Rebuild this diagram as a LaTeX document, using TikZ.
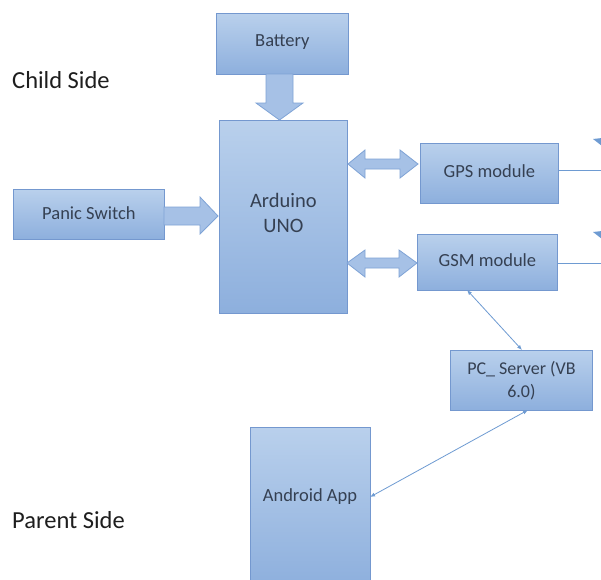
\documentclass[tikz,border=0pt]{standalone}
\usepackage{fontspec}
\setmainfont{Carlito}
\usetikzlibrary{arrows.meta}
\newcommand{\up}[2]{\raisebox{#1}{#2}}
\begin{document}
\begin{tikzpicture}[x=1pt,y=-1pt,
  blk/.style={draw=bordc, line width=0.8pt, top color=boxtop, bottom color=boxbot, text=txtc,
    font=\fontsize{18.5}{21}\selectfont, inner sep=0pt, align=center, anchor=north west},
  barrow/.style={draw=arrb, line width=0.8pt, fill=arrf},
  thin/.style={draw=linec, line width=0.8pt},
  side/.style={text=sidec, font=\fontsize{24.5}{28}\selectfont, anchor=west, inner sep=0pt}]
\definecolor{bordc}{HTML}{7498CF}
\definecolor{boxtop}{HTML}{B9D0EC}
\definecolor{boxbot}{HTML}{8DAFDD}
\definecolor{txtc}{HTML}{354052}
\definecolor{arrb}{HTML}{7FA3D6}
\definecolor{arrf}{HTML}{A6C1E6}
\definecolor{linec}{HTML}{6E9BD2}
\definecolor{sidec}{HTML}{1E1E1E}
\useasboundingbox (0,0) rectangle (601,579);
\fill[white] (0,0) rectangle (601,579);

% boxes
\node[blk, minimum width=132pt, minimum height=61pt] (bat) at (216,13) {\up{6pt}{Battery}};
\node[blk, minimum width=128pt, minimum height=193pt, font=\fontsize{20.5}{25}\selectfont] (ard) at (219,120) {\up{9pt}{Arduino}\\\up{9pt}{UNO}};
\node[blk, minimum width=151pt, minimum height=50pt] (pan) at (13,189) {\up{2pt}{Panic Switch}};
\node[blk, minimum width=138pt, minimum height=60pt] (gps) at (420,143) {\up{4pt}{GPS module}};
\node[blk, minimum width=140pt, minimum height=56pt] (gsm) at (417,234) {\up{5pt}{GSM module}};
\node[blk, minimum width=142pt, minimum height=60pt, font=\fontsize{18}{23}\selectfont] (pc) at (450,350) {\up{2pt}{PC\_ Server (VB}\\\up{2pt}{6.0)}};
\node[blk, minimum width=120pt, minimum height=160pt] (and) at (250,427) {};
\node[text=txtc, font=\fontsize{18.5}{21}\selectfont, inner sep=0pt] (andlbl) at (310,497) {Android App};

% side labels
\node[side] (child) at (12,80) {Child Side};
\node[side] (parent) at (12,520) {Parent Side};

% block arrow battery -> arduino
\path[barrow] (266,74) -- (293,74) -- (293,103) -- (303,103) -- (279.5,120) -- (256,103) -- (266,103) -- cycle;

% block arrow panic -> arduino
\path[barrow] (164,207) -- (200,207) -- (200,197) -- (218,216) -- (200,234) -- (200,225) -- (164,225) -- cycle;

% double block arrows arduino <-> gps / gsm
\path[barrow] (348,164) -- (365,150) -- (365,159) -- (400,159) -- (400,150) -- (418,164) -- (400,178) -- (400,169) -- (365,169) -- (365,178) -- cycle;
\path[barrow] (347,263) -- (365,250) -- (365,258) -- (399,258) -- (399,250) -- (417,263) -- (399,277) -- (399,268) -- (365,268) -- (365,277) -- cycle;

% thin connectors
\coordinate (gpsr) at (602,170);
\coordinate (gsmr) at (602,263);
\draw[thin] (gps.east |- gpsr) -- (gpsr);
\draw[thin] (gsm.east |- gsmr) -- (gsmr);
\fill[linec] (593,139) -- (602,138) -- (602,146) -- cycle;
\fill[linec] (593,232) -- (602,231) -- (602,239) -- cycle;

\coordinate (gsmb) at (467,290);
\coordinate (pct) at (522,350);
\coordinate (pcb) at (528,410);
\coordinate (andr) at (370,497);
\draw[thin, {Latex[length=5pt,width=4pt]}-{Latex[length=5pt,width=4pt]}] (gsmb) -- (pct);
\draw[thin, {Latex[length=5pt,width=4pt]}-{Latex[length=5pt,width=4pt]}] (pcb) -- (andr);
\end{tikzpicture}
\end{document}
